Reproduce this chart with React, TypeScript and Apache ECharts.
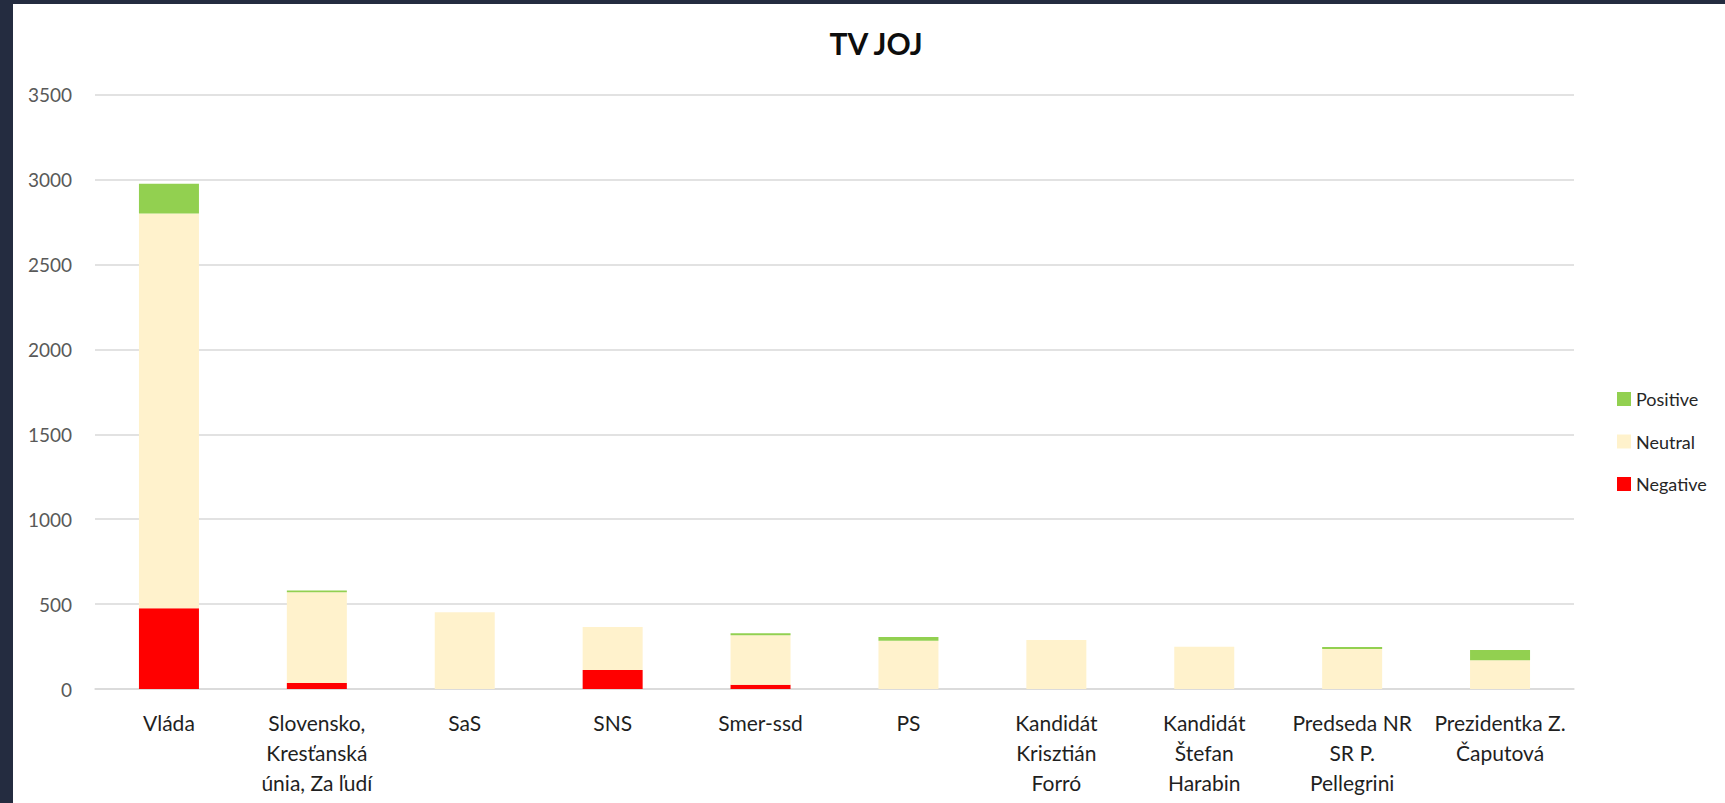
import React, { useEffect, useRef } from "react";
import * as echarts from "echarts";

const titleText = "TV JOJ";
const categories = [
  "Vláda",
  "Slovensko,\nKresťanská\núnia, Za ľudí",
  "SaS",
  "SNS",
  "Smer-ssd",
  "PS",
  "Kandidát\nKrisztián\nForró",
  "Kandidát\nŠtefan\nHarabin",
  "Predseda NR\nSR P.\nPellegrini",
  "Prezidentka Z.\nČaputová",
];
const negativeValues = [475, 35, 0, 112, 25, 0, 0, 0, 0, 0];
const neutralValues = [2325, 535, 452, 253, 292, 284, 289, 249, 236, 170];
const positiveValues = [175, 10, 0, 0, 12, 22, 0, 0, 11, 60];
const legendOrder = ["Positive", "Neutral", "Negative"];
const yMin = 0;
const yMax = 3500;
const yInterval = 500;

const FONT = "Lato, 'Open Sans', sans-serif";

export default function App() {
  const ref = useRef<HTMLDivElement>(null);

  useEffect(() => {
    if (!ref.current) return;
    const chart = echarts.init(ref.current, undefined, { renderer: "svg" });
    chart.setOption({
      animation: false,
      backgroundColor: "#ffffff",
      title: {
        text: titleText,
        left: 858,
        top: 19,
        textAlign: "center",
        textStyle: {
          fontFamily: FONT,
          fontSize: 30,
          fontWeight: "bold",
          color: "#0d0d0d",
        },
      },
      legend: {
        data: legendOrder,
        orient: "vertical",
        left: 1599,
        top: 381,
        itemWidth: 14,
        itemHeight: 14,
        itemGap: 24.5,
        icon: "rect",
        textStyle: {
          fontFamily: FONT,
          fontSize: 18,
          lineHeight: 16,
          color: "#262626",
        },
      },
      grid: {
        left: 82,
        right: 151,
        top: 90.7,
        bottom: 114,
        containLabel: false,
      },
      xAxis: {
        type: "category",
        data: categories,
        axisTick: { show: false },
        axisLine: { lineStyle: { color: "#d9d9d9", width: 1.5 } },
        axisLabel: {
          interval: 0,
          margin: 18,
          fontFamily: FONT,
          fontSize: 21,
          lineHeight: 30,
          color: "#1f1f1f",
        },
      },
      yAxis: {
        type: "value",
        min: yMin,
        max: yMax,
        interval: yInterval,
        axisLine: { show: false },
        axisTick: { show: false },
        splitLine: { lineStyle: { color: "#d9d9d9", width: 1.5 } },
        axisLabel: {
          margin: 23,
          fontFamily: FONT,
          fontSize: 19,
          color: "#595959",
          formatter: (v: number) => String(v),
        },
      },
      series: [
        {
          name: "Negative",
          type: "bar",
          stack: "total",
          barWidth: 60,
          data: negativeValues,
          itemStyle: { color: "#ff0000" },
        },
        {
          name: "Neutral",
          type: "bar",
          stack: "total",
          barWidth: 60,
          data: neutralValues,
          itemStyle: { color: "#fff2cc" },
        },
        {
          name: "Positive",
          type: "bar",
          stack: "total",
          barWidth: 60,
          data: positiveValues,
          itemStyle: { color: "#92d050" },
        },
      ],
    });
    return () => chart.dispose();
  }, []);

  return (
    <div
      style={{
        position: "fixed",
        left: 0,
        top: 0,
        width: 1725,
        height: 803,
        background: "#242c40",
        overflow: "hidden",
      }}
    >
      <div
        ref={ref}
        style={{
          position: "absolute",
          left: 13,
          top: 4,
          width: 1712,
          height: 799,
          background: "#ffffff",
        }}
      />
    </div>
  );
}
